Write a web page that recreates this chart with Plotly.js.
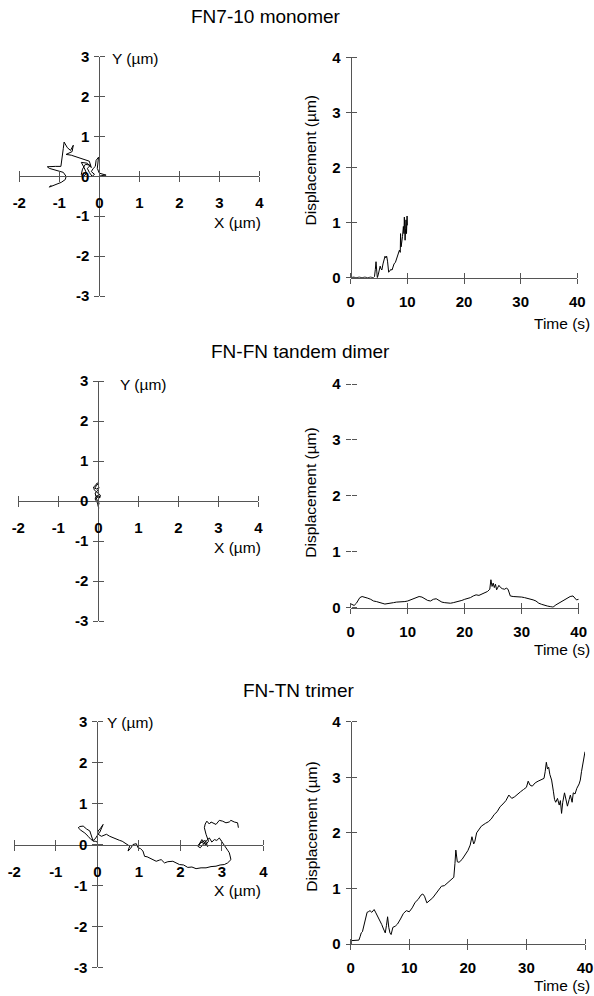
<!DOCTYPE html>
<html>
<head>
<meta charset="utf-8">
<script src="https://cdn.plot.ly/plotly-3.0.1.min.js"></script>
<style>html,body{margin:0;padding:0;background:#fff;}#chart{width:594px;height:996px;}</style>
</head>
<body>
<div id="chart"></div>
<script>
// ---------- DATA ----------
const panelTitles = ["FN7-10 monomer", "FN-FN tandem dimer", "FN-TN trimer"];
const xyTicksX = [-2, -1, 0, 1, 2, 3, 4];
const xyTicksY = [-3, -2, -1, 0, 1, 2, 3];
const timeTicks = [0, 10, 20, 30, 40];
const dispTicks = [0, 1, 2, 3, 4];

// FN7-10 monomer trajectory (µm)
const monoX = [0,0.05,0.17,0.1,0.0,-0.05,-0.03,-0.02,-0.08,-0.1,
  -0.15,-0.2,-0.12,-0.18,-0.25,-0.3,-0.22,-0.35,-0.42,-0.45,
  -0.4,-0.32,-0.38,-0.45,-0.3,-0.2,-0.25,-0.4,-0.55,-0.7,
  -0.83,-0.68,-0.65,-0.72,-0.8,-0.88,-0.9,-0.93,-0.96,-1.1,
  -1.3,-1.25,-1.1,-0.9,-0.83,-0.85,-0.95,-1.1,-1.25,-1.2];
const monoY = [0,0.02,0.03,0.05,0.08,0.2,0.35,0.48,0.4,0.25,
  0.2,0.12,0.05,0.0,0.1,0.2,0.28,0.3,0.18,0.05,
  -0.02,0.08,0.22,0.35,0.33,0.22,0.38,0.43,0.48,0.53,
  0.55,0.62,0.78,0.65,0.72,0.86,0.7,0.5,0.25,0.25,
  0.24,0.2,0.15,0.1,0.0,-0.08,-0.15,-0.2,-0.27,-0.22];
// FN7-10 monomer displacement vs time
const monoT = [0,0.5,1,1.5,2,2.5,3,3.5,4,4.2,
  4.35,4.47,4.6,4.7,4.85,5.0,5.2,5.35,5.5,5.7,
  5.9,6.06,6.2,6.35,6.5,6.7,6.9,7.06,7.3,7.5,
  7.65,7.9,8.1,8.3,8.45,8.6,8.75,8.8,8.9,9.0,
  9.06,9.15,9.3,9.4,9.47,9.55,9.6,9.7,9.76,9.85,
  9.9,9.95,10.0];
const monoD = [0,0.01,0,0.01,0,0.01,0,0.01,0,0.02,
  0.15,0.29,0.12,0.0,0.05,0.14,0.21,0.16,0.14,0.25,
  0.33,0.39,0.36,0.39,0.3,0.1,0.12,0.15,0.14,0.2,
  0.25,0.28,0.35,0.4,0.44,0.5,0.46,0.8,0.56,0.7,
  0.68,0.75,0.93,0.8,1.1,0.85,0.68,0.9,1.05,0.8,
  0.87,1.12,0.95];

// FN-FN tandem dimer trajectory
const dimerX = [0,0.03,-0.02,-0.06,-0.03,0.02,0.0,0.01,-0.02,-0.08,
  -0.05,0.04,0.05,-0.04,-0.1,-0.12,-0.06,-0.03,0.01,-0.05,
  -0.09,-0.04,0.02,-0.02,-0.08,-0.06,0.0,0.04,0.0];
const dimerY = [0.05,0.1,0.15,0.1,0.02,-0.05,-0.12,-0.18,-0.05,0.05,
  0.12,0.08,0.15,0.22,0.28,0.35,0.4,0.45,0.44,0.38,
  0.32,0.3,0.34,0.25,0.2,0.12,0.08,0.12,0.1];
// FN-FN tandem dimer displacement
const dimerT = [0,0.3,0.6,1,1.3,1.6,2,2.5,3,3.5,4,4.5,5,5.5,6,6.5,7,7.5,8,8.5,
  9,9.5,10,10.5,11,11.5,12,12.5,13,13.5,14,14.5,15,15.5,16,16.5,17,17.5,18,18.5,
  19,19.5,20,20.5,21,21.5,22,22.5,23,23.5,24,24.4,24.6,24.8,25.0,25.2,25.4,25.6,25.8,26,
  26.3,26.6,27,27.3,27.6,28,28.5,29,29.5,30,30.5,31,31.5,32,32.5,33,33.5,34,34.5,35,
  35.5,36,36.5,37,37.5,38,38.5,39,39.3,39.6,40];
const dimerD = [0.07,0.06,0.04,0.08,0.12,0.18,0.2,0.19,0.17,0.15,0.12,0.11,0.09,0.08,0.065,0.07,0.08,0.09,0.1,0.1,
  0.11,0.11,0.12,0.14,0.17,0.18,0.2,0.19,0.16,0.13,0.12,0.15,0.16,0.13,0.1,0.09,0.08,0.08,0.09,0.1,
  0.12,0.13,0.15,0.16,0.18,0.21,0.23,0.22,0.24,0.27,0.29,0.33,0.5,0.38,0.44,0.36,0.42,0.32,0.38,0.4,
  0.36,0.34,0.33,0.35,0.33,0.21,0.2,0.2,0.19,0.19,0.18,0.17,0.16,0.14,0.12,0.08,0.06,0.04,0.03,0.02,
  0.01,0.05,0.08,0.11,0.14,0.17,0.2,0.21,0.18,0.14,0.15];

// FN-TN trimer trajectory
const trimerX = [0,-0.05,-0.1,-0.14,-0.18,-0.26,-0.34,-0.42,-0.46,-0.4,
  -0.3,-0.22,-0.15,-0.1,-0.05,0.0,0.02,0.08,0.14,0.06,
  0.02,0.1,0.22,0.3,0.38,0.46,0.54,0.6,0.66,0.72,
  0.78,0.74,0.8,0.86,0.94,0.98,1.04,1.1,1.14,1.2,
  1.26,1.34,1.42,1.5,1.54,1.62,1.7,1.82,1.9,1.98,
  2.08,2.18,2.28,2.38,2.5,2.62,2.74,2.86,2.96,3.06,
  3.14,3.22,3.2,3.18,3.14,3.1,3.06,3.02,2.98,2.94,
  2.88,2.82,2.76,2.7,2.62,2.55,2.48,2.42,2.5,2.58,
  2.66,2.6,2.5,2.44,2.52,2.62,2.68,2.62,2.58,2.6,
  2.64,2.7,2.74,2.86,2.9,2.94,3.02,3.1,3.18,3.22,
  3.3,3.38,3.4];
const trimerY = [0.06,0.08,0.08,0.2,0.33,0.38,0.45,0.44,0.41,0.35,
  0.28,0.2,0.12,0.1,0.14,0.22,0.33,0.4,0.49,0.3,
  0.25,0.2,0.25,0.2,0.16,0.14,0.1,0.08,0.04,0.0,
  -0.04,-0.16,-0.1,0.0,0.02,-0.08,-0.1,-0.16,-0.29,-0.3,
  -0.33,-0.36,-0.41,-0.38,-0.37,-0.45,-0.42,-0.41,-0.45,-0.49,
  -0.5,-0.56,-0.55,-0.59,-0.57,-0.57,-0.54,-0.53,-0.5,-0.49,
  -0.45,-0.37,-0.28,-0.2,-0.14,-0.08,-0.02,0.04,0.1,0.16,
  0.1,0.12,0.06,0.16,0.08,0.0,-0.08,-0.04,0.06,0.02,
  -0.05,0.1,0.05,-0.02,0.12,0.0,0.08,0.25,0.41,0.5,
  0.57,0.5,0.55,0.49,0.55,0.59,0.57,0.53,0.55,0.59,
  0.55,0.53,0.41];
// FN-TN trimer displacement
const trimerT = [0,0.5,1,1.4,1.6,1.8,2,2.2,2.5,2.8,3,3.3,3.6,4,4.3,4.6,5,5.3,5.6,5.9,
  6.1,6.3,6.5,6.7,6.9,7.2,7.6,8,8.5,9,9.5,10,10.5,11,11.5,12,12.3,12.6,13,13.5,
  14,14.5,15,15.5,16,16.5,17,17.6,17.8,17.95,18.2,18.5,19,19.5,20,20.4,20.7,21,21.2,21.5,
  21.8,22.3,23,23.5,24,24.5,25,25.5,26,26.5,27,27.5,28,28.5,29,29.5,30,30.3,30.6,31,
  31.5,32,32.5,33,33.2,33.4,33.6,33.8,34,34.3,34.6,34.8,35,35.3,35.6,35.8,36,36.2,36.5,36.8,
  37,37.3,37.5,37.8,38,38.3,38.6,39,39.2,39.4,39.6,39.8,40];
const trimerD = [0.06,0.06,0.06,0.07,0.13,0.2,0.22,0.3,0.45,0.57,0.58,0.6,0.57,0.62,0.56,0.5,0.42,0.35,0.27,0.2,
  0.33,0.49,0.3,0.2,0.17,0.3,0.32,0.36,0.45,0.55,0.6,0.58,0.65,0.75,0.8,0.88,0.9,0.86,0.74,0.78,
  0.83,0.9,0.98,1.04,1.05,1.1,1.14,1.2,1.45,1.69,1.48,1.47,1.52,1.6,1.68,1.78,1.93,1.8,1.85,2.0,
  2.05,2.12,2.17,2.2,2.25,2.33,2.38,2.47,2.52,2.58,2.68,2.62,2.65,2.7,2.74,2.78,2.82,2.93,2.86,2.84,
  2.9,2.93,2.95,2.98,3.1,3.27,3.15,3.18,3.05,2.95,2.75,2.6,2.55,2.62,2.5,2.58,2.35,2.55,2.72,2.55,
  2.48,2.6,2.68,2.55,2.72,2.7,2.8,2.88,2.95,3.1,3.25,3.4,3.46];

// ---------- LAYOUT HELPERS ----------
const W = 594, H = 996;
const fx = p => p / W;
const fy = p => 1 - p / H;
const AX = '#555';
const FAM = 'Liberation Sans, Arial, Helvetica, sans-serif';
const tickFont = {family: FAM, size: 15, color: '#000', weight: 'bold'};
const titleFont = {family: FAM, size: 15.5, color: '#000'};
const lbl = arr => arr.map(v => String(v));   // plain hyphen-minus like the original

const layout = {
  width: W, height: H, margin: {l: 0, r: 0, t: 0, b: 0},
  paper_bgcolor: '#fff', plot_bgcolor: 'rgba(0,0,0,0)',
  showlegend: false, annotations: []
};
const traces = [];
let axN = 1;

function baseAxis(extra) {
  return Object.assign({
    showgrid: false, zeroline: false, fixedrange: true,
    linecolor: AX, linewidth: 1, tickcolor: AX, tickwidth: 1,
    ticks: 'outside', ticklen: 5, tickfont: tickFont, tickmode: 'array'
  }, extra);
}

function xyPanel(xs, ys, pxX, pxY) {
  const dx = [fx(pxX[0]), fx(pxX[1])];
  const dy = [fy(pxY[1]), fy(pxY[0])];
  const xr = [xyTicksX[0], xyTicksX[xyTicksX.length - 1]];
  const yr = [xyTicksY[0], xyTicksY[xyTicksY.length - 1]];
  const xPos = dy[0] + (dy[1] - dy[0]) * (0 - yr[0]) / (yr[1] - yr[0]);
  const yPos = dx[0] + (dx[1] - dx[0]) * (0 - xr[0]) / (xr[1] - xr[0]);
  const a = axN, b = axN + 1; axN += 2;
  layout['xaxis' + a] = baseAxis({domain: dx, range: xr, anchor: 'free', position: xPos,
    showline: true, tickvals: xyTicksX, ticktext: lbl(xyTicksX), ticklabelstandoff: 8});
  layout['yaxis' + a] = baseAxis({domain: dy, range: yr, anchor: 'free', position: yPos,
    showline: true, tickvals: xyTicksY, ticktext: lbl(xyTicksY), ticklabelstandoff: 2});
  layout['xaxis' + b] = baseAxis({overlaying: 'x' + a, range: xr, anchor: 'free', position: xPos,
    side: 'top', showline: false, showticklabels: false, tickvals: xyTicksX});
  layout['yaxis' + b] = baseAxis({overlaying: 'y' + a, range: yr, anchor: 'free', position: yPos,
    side: 'right', showline: false, showticklabels: false, tickvals: xyTicksY});
  traces.push({type: 'scatter', mode: 'lines', x: xs, y: ys, xaxis: 'x' + a, yaxis: 'y' + a,
    line: {color: '#000', width: 1}, hoverinfo: 'skip'});
  traces.push({type: 'scatter', mode: 'lines', x: [], y: [], xaxis: 'x' + b, yaxis: 'y' + b, hoverinfo: 'skip'});
}

function dispPanel(ts, ds, pxX, pxY, showYLine) {
  const dx = [fx(pxX[0]), fx(pxX[1])];
  const dy = [fy(pxY[0]), fy(pxY[1])];
  const xr = [timeTicks[0], timeTicks[timeTicks.length - 1]];
  const yr = [dispTicks[0], dispTicks[dispTicks.length - 1]];
  const a = axN, b = axN + 1; axN += 2;
  layout['xaxis' + a] = baseAxis({domain: dx, range: xr, anchor: 'free', position: dy[0],
    showline: true, tickvals: timeTicks, ticktext: lbl(timeTicks), ticklabelstandoff: 5});
  layout['yaxis' + a] = baseAxis({domain: dy, range: yr, anchor: 'free', position: dx[0],
    showline: showYLine, tickvals: dispTicks, ticktext: lbl(dispTicks), ticklabelstandoff: 2});
  layout['xaxis' + b] = baseAxis({overlaying: 'x' + a, range: xr, anchor: 'free', position: dy[0],
    side: 'top', showline: false, showticklabels: false, tickvals: timeTicks});
  layout['yaxis' + b] = baseAxis({overlaying: 'y' + a, range: yr, anchor: 'free', position: dx[0],
    side: 'right', showline: false, showticklabels: false, tickvals: dispTicks});
  traces.push({type: 'scatter', mode: 'lines', x: ts, y: ds, xaxis: 'x' + a, yaxis: 'y' + a,
    line: {color: '#000', width: 1}, hoverinfo: 'skip'});
  traces.push({type: 'scatter', mode: 'lines', x: [], y: [], xaxis: 'x' + b, yaxis: 'y' + b, hoverinfo: 'skip'});
}

function note(text, px, py, xanchor, extra) {
  layout.annotations.push(Object.assign({
    text: text, xref: 'paper', yref: 'paper', x: fx(px), y: fy(py),
    xanchor: xanchor, yanchor: 'middle', showarrow: false, font: titleFont
  }, extra || {}));
}

// ---------- PANELS ----------
xyPanel(monoX, monoY, [19.3, 259.3], [56.7, 296]);
dispPanel(monoT, monoD, [350.7, 577.3], [277.7, 57.3], true);
xyPanel(dimerX, dimerY, [18.3, 258.3], [381, 621]);
dispPanel(dimerT, dimerD, [350.7, 578.7], [607.7, 384], false);
xyPanel(trimerX, trimerY, [14.3, 263.3], [721.7, 967.3]);
dispPanel(trimerT, trimerD, [350.7, 585], [944, 721.7], true);

// Titles
const bigFont = {family: FAM, size: 19, color: '#000'};
note(panelTitles[0], 266, 17, 'center', {font: bigFont});
note(panelTitles[1], 300, 352, 'center', {font: bigFont});
note(panelTitles[2], 298, 690, 'center', {font: bigFont});

// Axis titles
const yLab = 'Y (µm)', xLab = 'X (µm)', dLab = 'Displacement (µm)', tLab = 'Time (s)';
note(yLab, 110, 58, 'left');
note(yLab, 118, 385, 'left');
note(yLab, 105, 722, 'left');
note(xLab, 263, 222, 'right');
note(xLab, 263, 547, 'right');
note(xLab, 263, 890, 'right');
note(dLab, 310.7, 160.7, 'center', {textangle: -90});
note(dLab, 310.7, 493, 'center', {textangle: -90});
note(dLab, 310.7, 827, 'center', {textangle: -90});
note(tLab, 592, 323, 'right');
note(tLab, 592, 649, 'right');
note(tLab, 592, 985, 'right');

Plotly.newPlot('chart', traces, layout, {staticPlot: true, displayModeBar: false});
</script>
</body>
</html>
